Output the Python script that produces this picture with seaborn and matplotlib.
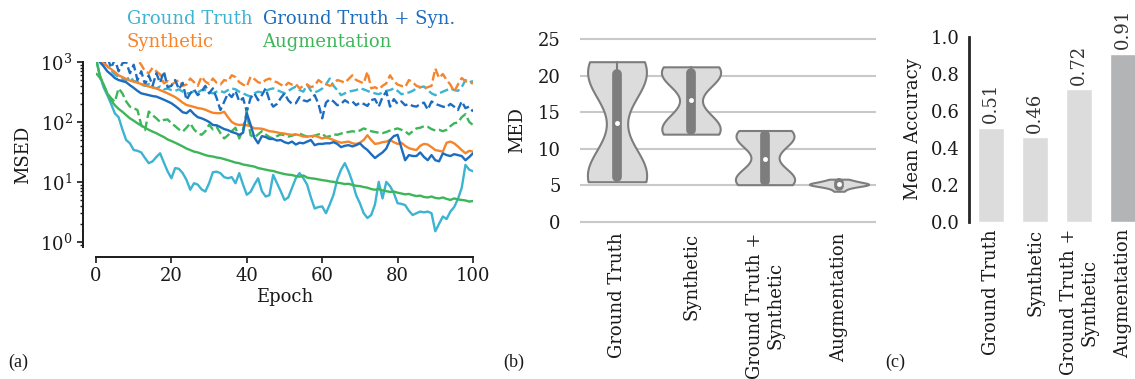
import numpy as np
import pandas as pd
import matplotlib
matplotlib.use("Agg")
import matplotlib.pyplot as plt
import seaborn as sns
from matplotlib.lines import Line2D

# ---------------- data ----------------
epochs = list(range(0, 101))
models = ["Ground Truth", "Synthetic", "Ground Truth + Syn.", "Augmentation"]
colors = {"Ground Truth": "#3db3d2", "Synthetic": "#f6842a",
          "Ground Truth + Syn.": "#1c6cbf", "Augmentation": "#3db659"}

gt_val = [1200, 600, 380, 280, 200, 139, 120, 75, 50, 44,
          34, 33, 31, 25, 20.5, 22, 26, 30, 21, 15,
          11.5, 17, 16.5, 14, 10.8, 7.4, 9.5, 9, 7.5, 6.9,
          9.5, 14.5, 14.8, 14, 12, 11.5, 12, 9.5, 14, 9,
          6.1, 6.8, 9, 11.5, 7, 5.7, 6, 13.1, 9.5, 7,
          5.0, 5.5, 8, 11.5, 14, 11.5, 9, 5.5, 3.6, 3.8,
          3.9, 3.0, 4.2, 6.1, 11, 16, 20.5, 15, 10, 6,
          4.4, 3.0, 2.5, 2.8, 4.2, 10, 5.3, 10, 8.5, 6.5,
          4.4, 4.3, 4.1, 3.3, 2.8, 3.0, 3.2, 3.1, 3.2, 3.0,
          1.5, 2.0, 2.65, 2.4, 3.2, 3.8, 5.2, 7.9, 19.2, 16,
          15]
syn_val = [1400, 1100, 950, 850, 760, 680, 600, 560, 520, 490,
           470, 450, 430, 410, 390, 375, 363, 340, 320, 300,
           280, 260, 235, 210, 192, 185, 178, 170, 167, 160,
           150, 142, 140, 140, 148, 120, 100, 92, 89, 90,
           88, 85, 78, 78, 77, 74, 70, 69, 67, 65,
           64, 62, 61, 62, 60, 57, 57, 58, 59, 56,
           53, 55, 53, 50, 47, 45, 46, 47, 44, 43,
           45, 50, 60, 50, 43, 44, 46, 47, 50, 46,
           43, 45, 40, 36.5, 35, 34, 40, 43, 42, 38,
           34, 33, 32, 45, 47, 44, 39, 34, 30, 33,
           32]
gts_val = [1400, 1000, 850, 700, 620, 540, 500, 480, 460, 410,
           370, 330, 300, 290, 280, 270, 265, 250, 235, 220,
           205, 185, 165, 145, 140, 158, 135, 120, 115, 108,
           100, 89, 88, 82, 76, 73, 68, 65, 61, 66,
           140, 90, 55, 44, 58, 56, 52, 52, 49, 50,
           46, 44, 47, 42, 45, 44, 47, 50, 41, 43,
           43, 44, 44, 46, 43, 38, 40, 41, 39, 41,
           44, 38, 34, 29, 25, 28, 31, 36, 50, 58,
           61, 37, 23, 28, 27, 27, 31, 26, 23, 28,
           23, 22, 30, 28, 27, 29, 28, 27, 23, 26,
           30]
aug_val = [1100, 600, 420, 300, 230, 190, 165, 148, 130, 115,
           105, 95, 87, 80, 74, 69, 65, 60, 56, 51,
           48, 45, 42, 39, 36, 34, 32, 31, 29.5, 28,
           27, 26.5, 25.5, 25, 24, 23, 22, 21, 20.5, 19.5,
           19, 18.5, 18, 17, 16.5, 16, 15.5, 15.2, 14.5, 14,
           13.5, 13.2, 13, 12.5, 12.2, 12.8, 11.8, 11.5, 11.3, 11,
           10.7, 10.5, 10.2, 10, 9.7, 9.5, 9.2, 9.3, 8.9, 8.6,
           8.5, 8.2, 8.0, 7.6, 7.4, 7.6, 7.2, 7.0, 6.8, 6.9,
           6.6, 6.4, 6.2, 6.3, 6.0, 5.8, 5.9, 5.6, 5.5, 5.7,
           5.4, 5.3, 5.5, 5.2, 5.0, 5.3, 5.1, 5.0, 4.9, 4.7,
           4.8]
gt_train = [1500, 1200, 1000, 850, 720, 620, 560, 520, 500, 570,
            480, 470, 420, 400, 430, 380, 363, 390, 350, 360,
            340, 330, 350, 320, 300, 300, 330, 310, 340, 340,
            310, 300, 320, 330, 310, 340, 363, 350, 320, 300,
            280, 265, 300, 320, 310, 330, 350, 363, 340, 320,
            300, 330, 360, 390, 340, 320, 420, 330, 310, 330,
            360, 420, 530, 400, 340, 280, 300, 320, 330, 340,
            363, 350, 330, 310, 300, 290, 310, 330, 340, 363,
            330, 290, 300, 310, 330, 363, 380, 390, 340, 300,
            280, 300, 320, 340, 363, 340, 330, 380, 500, 460,
            480]
syn_train = [2000, 1800, 1600, 1500, 1400, 1300, 1250, 1200, 1100, 1150,
             1050, 1100, 900, 700, 650, 800, 700, 620, 440, 480,
             420, 460, 500, 400, 420, 530, 460, 400, 570, 470,
             430, 530, 450, 420, 500, 480, 600, 560, 460, 420,
             390, 570, 520, 460, 440, 500, 530, 480, 460, 420,
             390, 450, 420, 430, 363, 400, 420, 380, 400, 500,
             450, 430, 400, 420, 500, 480, 450, 520, 600, 500,
             470, 440, 690, 363, 380, 350, 400, 440, 600, 480,
             420, 400, 380, 500, 460, 400, 380, 363, 380, 400,
             780, 540, 630, 500, 420, 320, 420, 540, 480, 450,
             440]
gts_train = [1500, 1300, 900, 1200, 800, 1100, 700, 950, 1000, 650,
             900, 500, 700, 420, 600, 400, 650, 450, 700, 380,
             400, 500, 350, 450, 232, 300, 350, 280, 320, 400,
             300, 363, 250, 158, 217, 300, 260, 330, 220, 250,
             149, 250, 300, 230, 280, 363, 230, 180, 200, 250,
             300, 230, 200, 205, 260, 230, 220, 240, 280, 200,
             115, 210, 240, 220, 190, 200, 230, 210, 220, 190,
             210, 200, 185, 232, 240, 180, 260, 320, 180, 240,
             200, 220, 190, 200, 185, 180, 200, 210, 160, 220,
             200, 190, 180, 175, 200, 180, 158, 220, 170, 180,
             149]
aug_train = [650, 550, 420, 300, 250, 217, 363, 300, 220, 180,
             170, 158, 89, 73, 149, 130, 115, 100, 108, 110,
             95, 85, 75, 69, 80, 95, 75, 65, 61, 70,
             90, 75, 83, 65, 53, 60, 70, 80, 53, 75,
             150, 60, 55, 62, 70, 62, 56, 53, 58, 62,
             60, 57, 59, 62, 64, 60, 57, 55, 59, 62,
             64, 56, 58, 62, 61, 64, 66, 68, 70, 68,
             72, 78, 74, 70, 68, 66, 65, 68, 72, 75,
             78, 74, 70, 62, 70, 78, 80, 85, 83, 76,
             72, 74, 70, 74, 85, 95, 98, 120, 135, 100,
             89]

violin_cats = ["Ground Truth", "Synthetic", "Ground Truth +\nSynthetic", "Augmentation"]
med_gt = [5.5, 5.6, 5.8, 5.95, 6.5, 7.2, 8.0, 19.0, 19.6, 20.1, 20.3, 21.0, 21.5, 21.9]
med_syn = [12.0, 12.1, 12.3, 12.45, 12.8, 13.4, 14.0, 19.4, 19.9, 20.3, 20.45, 20.8, 21.0, 21.2]
med_gts = [5.1, 5.2, 5.4, 5.55, 5.9, 6.5, 7.1, 10.2, 10.9, 11.7, 11.9, 12.1, 12.3, 12.5]
med_aug = [4.2, 4.55, 4.75, 4.88, 4.97, 5.04, 5.1, 5.15, 5.2, 5.26, 5.33,
           5.42, 5.55, 5.7, 5.85]

acc_cats = ["Ground Truth", "Synthetic", "Ground Truth +\nSynthetic", "Augmentation"]
acc_vals = [0.51, 0.46, 0.72, 0.91]
acc_colors = ["#dcdcdc", "#dcdcdc", "#dcdcdc", "#b2b4b5"]

# ---------------- style ----------------
sns.set_theme(style="white")
plt.rcParams["font.family"] = ["DejaVu Serif"]
plt.rcParams["mathtext.fontset"] = "dejavuserif"
FS = 13

W, H = 1135, 379
fig = plt.figure(figsize=(W / 100, H / 100), dpi=100)

def box(l, t, r, b):
    return [l / W, 1 - b / H, (r - l) / W, (b - t) / H]

# ---------------- (a) ----------------
ax = fig.add_axes(box(96, 62, 473, 247))
rows = []
for name, val, tr in [("Ground Truth", gt_val, gt_train),
                      ("Synthetic", syn_val, syn_train),
                      ("Ground Truth + Syn.", gts_val, gts_train),
                      ("Augmentation", aug_val, aug_train)]:
    for e, v, t in zip(epochs, val, tr):
        rows.append((name, "train", e, t))
        rows.append((name, "val", e, v))
df = pd.DataFrame(rows, columns=["model", "split", "epoch", "msed"])
sns.lineplot(data=df[df.split == "train"], x="epoch", y="msed", hue="model",
             palette=colors, hue_order=models, ax=ax, legend=False,
             linewidth=1.7, linestyle=(0, (3.7, 1.6)))
sns.lineplot(data=df[df.split == "val"], x="epoch", y="msed", hue="model",
             palette=colors, hue_order=models, ax=ax, legend=False,
             linewidth=1.7)
ax.set_yscale("log")
ax.set_ylim(0.82, 1000)
ax.set_xlim(0, 100)
ax.set_xticks([0, 20, 40, 60, 80, 100])
ax.set_yticks([1, 10, 100, 1000])
for s in ["top", "right"]:
    ax.spines[s].set_visible(False)
ax.spines["left"].set_position(("outward", 9.4))
ax.spines["bottom"].set_position(("outward", 7.2))
for s in ["left", "bottom"]:
    ax.spines[s].set_color("#1a1a1a")
    ax.spines[s].set_linewidth(1.4)
ax.tick_params(axis="both", which="major", labelsize=FS, length=4, width=1.2,
               color="#1a1a1a", labelcolor="#1a1a1a", left=True, bottom=True)
ax.tick_params(axis="y", which="minor", length=2.5, width=1.0, left=True, color="#1a1a1a")
ax.set_xlabel("Epoch", fontsize=FS, color="#1a1a1a", labelpad=2)
ax.set_ylabel("MSED", fontsize=FS, color="#1a1a1a", labelpad=6)

handles = [Line2D([], [], linestyle="none") for _ in models]
order = ["Ground Truth", "Synthetic", "Ground Truth + Syn.", "Augmentation"]
leg = fig.legend(handles, order, ncol=2, frameon=False, handlelength=0,
                 handletextpad=0, columnspacing=0.55, labelspacing=0.25,
                 fontsize=FS, loc="upper left", borderpad=0, borderaxespad=0,
                 bbox_to_anchor=(127 / W, 1 - 10 / H))
for txt in leg.get_texts():
    txt.set_color(colors[txt.get_text()])

# ---------------- (b) ----------------
axb = fig.add_axes(box(580, 35.34, 876, 225.66))
vrows = []
for c, vals in zip(violin_cats, [med_gt, med_syn, med_gts, med_aug]):
    for v in vals:
        vrows.append((c, v))
vdf = pd.DataFrame(vrows, columns=["model", "med"])
axb.set_axisbelow(True)
axb.yaxis.grid(True, color="#c9c9c9", linewidth=1.5)
sns.violinplot(data=vdf, x="model", y="med", order=violin_cats, ax=axb, cut=0,
               density_norm="width", inner="box", color="#dcdcdc",
               linecolor="#7d7d7d", linewidth=1.5, width=0.8, bw_adjust=0.85,
               inner_kws=dict(box_width=7, whis_width=1.5, marker="o", markersize=3))
for ln in axb.lines:
    if ln.get_linewidth() > 5:
        ln.set_solid_capstyle("round")
    if ln.get_marker() == "o":
        ln.set_markerfacecolor("white")
        ln.set_markeredgecolor("white")
        ln.set_markersize(3)
        ln.set_markeredgewidth(0.5)
axb.set_ylim(-0.5, 25.5)
axb.set_xlim(-0.5, 3.5)
axb.set_yticks([0, 5, 10, 15, 20, 25])
for s in axb.spines.values():
    s.set_visible(False)
axb.tick_params(axis="y", length=0, pad=14, labelsize=FS, labelcolor="#1a1a1a")
axb.tick_params(axis="x", length=0, pad=5, labelsize=FS, labelcolor="#1a1a1a")
axb.set_xticks(range(4))
axb.set_xticklabels(violin_cats, rotation=90, va="top", ha="center")
axb.set_xlabel("")
axb.set_ylabel("MED", fontsize=FS, color="#1a1a1a", labelpad=8)

# ---------------- (c) ----------------
axc = fig.add_axes(box(969, 37, 1145, 222))
sns.barplot(x=acc_cats, y=acc_vals, hue=acc_cats, palette=acc_colors,
            order=acc_cats, hue_order=acc_cats, legend=False, ax=axc,
            width=0.6, saturation=1)
axc.set_ylim(0, 1.0)
axc.set_xlim(-0.5, 3.5)
axc.set_yticks([0.0, 0.2, 0.4, 0.6, 0.8, 1.0])
for s in ["top", "right", "bottom"]:
    axc.spines[s].set_visible(False)
axc.spines["left"].set_color("#262626")
axc.spines["left"].set_linewidth(2.0)
axc.tick_params(axis="y", length=0, pad=7, labelsize=FS, labelcolor="#1a1a1a")
axc.tick_params(axis="x", length=0, pad=5, labelsize=FS, labelcolor="#1a1a1a")
axc.set_xticks(range(4))
axc.set_xticklabels(acc_cats, rotation=90, va="top", ha="center")
axc.set_ylabel("Mean Accuracy", fontsize=FS, color="#1a1a1a", labelpad=6)
for cont in axc.containers:
    axc.bar_label(cont, fmt="%.2f", rotation=90, padding=3, fontsize=FS,
                  color="#333333", clip_on=False)

# ---------------- panel labels ----------------
for lbl, x in [("(a)", 8), ("(b)", 503), ("(c)", 885)]:
    fig.text(x / W, 1 - 362 / H, lbl, fontsize=FS, family="Liberation Serif",
             va="center", ha="left", color="#1a1a1a")

fig.savefig("out.png", dpi=100)
